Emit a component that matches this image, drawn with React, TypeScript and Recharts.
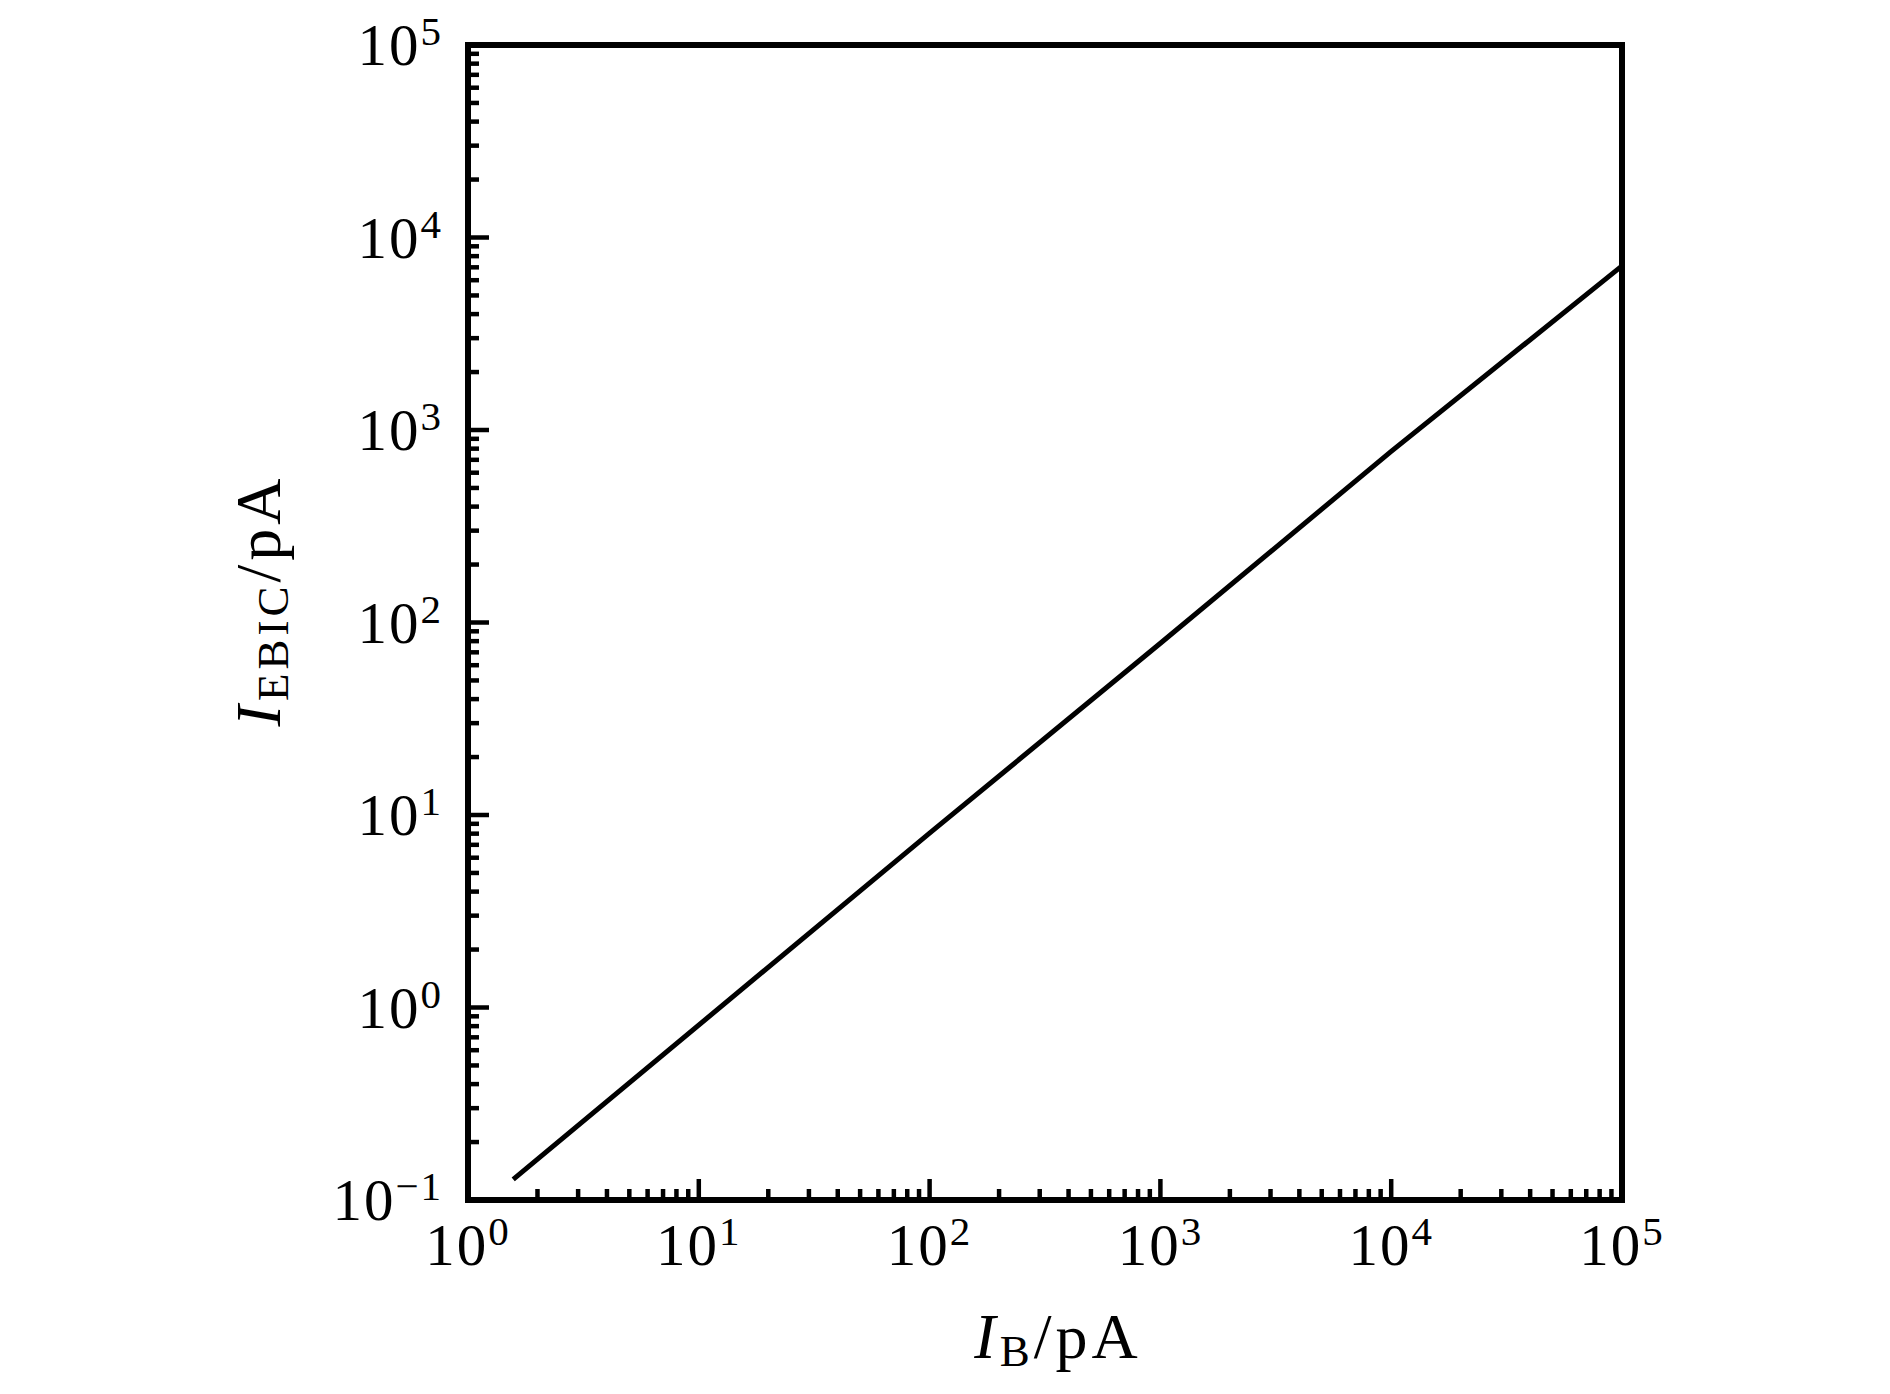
import React from 'react';
import { LineChart, Line, XAxis, YAxis, ReferenceArea } from 'recharts';

// (log-log)
const IB_VALUES = [1.57, 100, 1000, 10000, 100000];
const IEBIC_VALUES = [0.128, 8.05, 78, 774, 7120];

const X_EXPONENTS = [0, 1, 2, 3, 4, 5];
const Y_EXPONENTS = [-1, 0, 1, 2, 3, 4, 5];
const MINOR_STEPS = [2, 3, 4, 5, 6, 7, 8, 9];

const FONT = '"Liberation Serif", "Times New Roman", serif';

function buildTicks(exps: number[]) {
  const out: number[] = [];
  exps.forEach((e, i) => {
    out.push(Number(Math.pow(10, e).toPrecision(6)));
    if (i < exps.length - 1) {
      MINOR_STEPS.forEach((m) => out.push(Number((m * Math.pow(10, e)).toPrecision(6))));
    }
  });
  return out;
}

const xTicks = buildTicks(X_EXPONENTS);
const yTicks = buildTicks(Y_EXPONENTS);

const data = IB_VALUES.map((x, i) => ({ ib: x, iebic: IEBIC_VALUES[i] }));

function decadeOf(v: number) {
  const l = Math.log10(v);
  return Math.abs(l - Math.round(l)) < 1e-6 ? Math.round(l) : null;
}

function expText(e: number) {
  return e < 0 ? '\u2212' + Math.abs(e) : String(e);
}

const MAJOR = 21;
const MINOR = 11;

function YTick(props: any) {
  const { x, y, payload } = props;
  const e = decadeOf(payload.value);
  const len = e === null ? MINOR : MAJOR;
  return (
    <g>
      <line x1={x} x2={x + len} y1={y} y2={y} stroke="#000" strokeWidth={4.5} />
      {e !== null && (
        <text x={x - 25} y={y + 20} textAnchor="end" fontFamily={FONT} fontSize={59} letterSpacing={2} fill="#000">
          <tspan>10</tspan>
          <tspan dy={-20} fontSize={41}>{expText(e)}</tspan>
        </text>
      )}
    </g>
  );
}

function XTick(props: any) {
  const { x, y, payload } = props;
  const e = decadeOf(payload.value);
  const len = e === null ? MINOR : MAJOR;
  return (
    <g>
      <line x1={x} x2={x} y1={y} y2={y - len} stroke="#000" strokeWidth={4.5} />
      {e !== null && (
        <text x={x} y={y + 65} textAnchor="middle" fontFamily={FONT} fontSize={59} letterSpacing={2} fill="#000">
          <tspan>10</tspan>
          <tspan dy={-20} fontSize={41}>{expText(e)}</tspan>
        </text>
      )}
    </g>
  );
}

function XTitle(props: any) {
  const vb = props.viewBox;
  return (
    <text x={vb.x + vb.width / 2 + 13} y={vb.y + 158} textAnchor="middle" fontFamily={FONT} fontSize={64} letterSpacing={4} fill="#000">
      <tspan fontStyle="italic">I</tspan>
      <tspan fontSize={45} dy={8}>B</tspan>
      <tspan dy={-8}>/pA</tspan>
    </text>
  );
}

function YTitle(props: any) {
  const vb = props.viewBox;
  const cx = 280;
  const cy = vb.y + vb.height / 2 - 22;
  return (
    <text x={cx} y={cy} transform={`rotate(-90 ${cx} ${cy})`} textAnchor="middle" fontFamily={FONT} fontSize={64} letterSpacing={4} fill="#000">
      <tspan fontStyle="italic">I</tspan>
      <tspan fontSize={45} dy={8}>EBIC</tspan>
      <tspan dy={-8}>/pA</tspan>
    </text>
  );
}

export default function App() {
  return (
    <div style={{ position: 'absolute', left: 0, top: 0, width: 1890, height: 1394, background: '#fff' }}>
      <LineChart width={1890} height={1394} data={data} margin={{ top: 45, right: 268, bottom: 0, left: 0 }}>
        <XAxis
          dataKey="ib"
          type="number"
          scale="log"
          domain={[1, 100000]}
          allowDataOverflow
          ticks={xTicks}
          interval={0}
          tickSize={0}
          tickMargin={0}
          axisLine={false}
          tickLine={false}
          tick={<XTick />}
          height={194}
          label={{ content: <XTitle /> }}
        />
        <YAxis
          type="number"
          scale="log"
          domain={[0.1, 100000]}
          allowDataOverflow
          ticks={yTicks}
          interval={0}
          tickSize={0}
          tickMargin={0}
          axisLine={false}
          tickLine={false}
          tick={<YTick />}
          width={468}
          label={{ content: <YTitle /> }}
        />
        <ReferenceArea x1={1} x2={100000} y1={0.1} y2={100000} fill="none" fillOpacity={0} stroke="#000" strokeWidth={6} ifOverflow="visible" />
        <Line
          type="linear"
          dataKey="iebic"
          stroke="#000"
          strokeWidth={5}
          dot={false}
          activeDot={false}
          isAnimationActive={false}
        />
      </LineChart>
    </div>
  );
}
